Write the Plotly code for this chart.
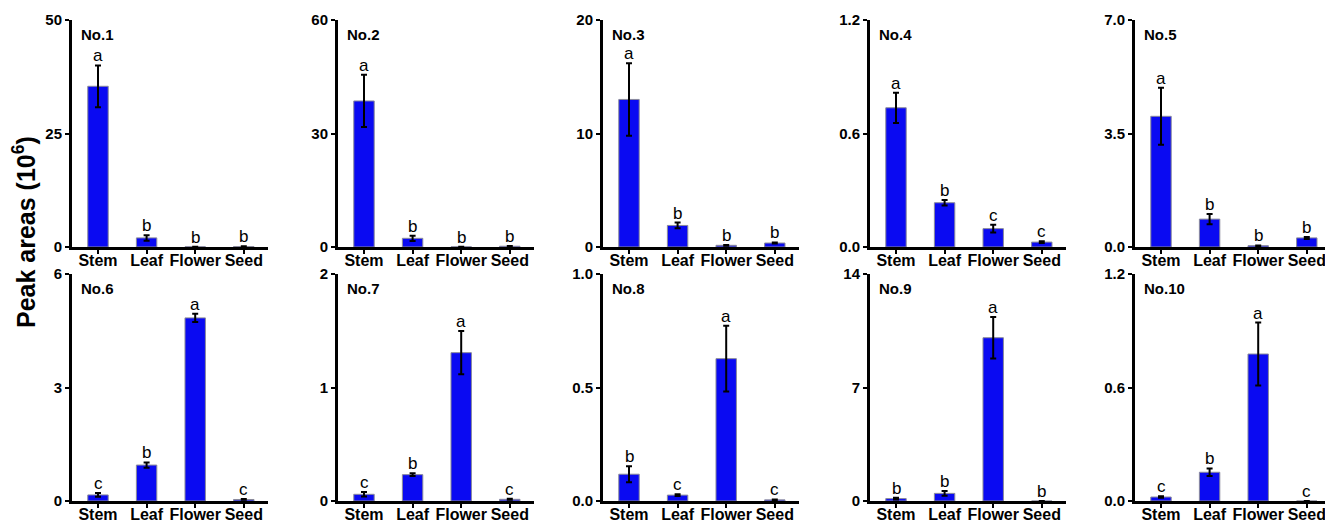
import plotly.graph_objects as go

W, H = 1325, 521

categories = ["Stem", "Leaf", "Flower", "Seed"]
panel_names = ["No.1", "No.2", "No.3", "No.4", "No.5", "No.6", "No.7", "No.8", "No.9", "No.10"]

no1_mean = [35.4, 2.0, 0.05, 0.1]
no1_err = [4.6, 0.6, 0.02, 0.05]
no1_letters = ["a", "b", "b", "b"]

no2_mean = [38.6, 2.3, 0.05, 0.2]
no2_err = [6.9, 0.7, 0.02, 0.05]
no2_letters = ["a", "b", "b", "b"]

no3_mean = [13.0, 1.9, 0.15, 0.35]
no3_err = [3.2, 0.25, 0.03, 0.05]
no3_letters = ["a", "b", "b", "b"]

no4_mean = [0.736, 0.234, 0.097, 0.026]
no4_err = [0.08, 0.015, 0.02, 0.005]
no4_letters = ["a", "b", "c", "c"]

no5_mean = [4.03, 0.86, 0.04, 0.28]
no5_err = [0.88, 0.16, 0.01, 0.03]
no5_letters = ["a", "b", "b", "b"]

no6_mean = [0.16, 0.95, 4.84, 0.04]
no6_err = [0.05, 0.07, 0.11, 0.01]
no6_letters = ["c", "b", "a", "c"]

no7_mean = [0.059, 0.232, 1.307, 0.015]
no7_err = [0.02, 0.012, 0.19, 0.004]
no7_letters = ["c", "b", "a", "c"]

no8_mean = [0.118, 0.026, 0.627, 0.005]
no8_err = [0.035, 0.004, 0.145, 0.002]
no8_letters = ["b", "c", "a", "c"]

no9_mean = [0.15, 0.47, 10.07, 0.0]
no9_err = [0.05, 0.15, 1.28, 0.0]
no9_letters = ["b", "b", "a", "b"]

no10_mean = [0.021, 0.152, 0.777, 0.0]
no10_err = [0.004, 0.02, 0.166, 0.0]
no10_letters = ["c", "b", "a", "c"]

y_max = [50, 60, 20, 1.2, 7.0, 6, 2, 1.0, 14, 1.2]
y_ticktext = [
    ["0", "25", "50"], ["0", "30", "60"], ["0", "10", "20"], ["0.0", "0.6", "1.2"], ["0.0", "3.5", "7.0"],
    ["0", "3", "6"], ["0", "1", "2"], ["0.0", "0.5", "1.0"], ["0", "7", "14"], ["0.0", "0.6", "1.2"],
]

means = [no1_mean, no2_mean, no3_mean, no4_mean, no5_mean, no6_mean, no7_mean, no8_mean, no9_mean, no10_mean]
errs = [no1_err, no2_err, no3_err, no4_err, no5_err, no6_err, no7_err, no8_err, no9_err, no10_err]
letters = [no1_letters, no2_letters, no3_letters, no4_letters, no5_letters,
           no6_letters, no7_letters, no8_letters, no9_letters, no10_letters]

# layout geometry (pixels)
col_left = [72, 338, 603, 870, 1135]
panel_w = 196
row_top = [20, 274]
panel_h = 227
unit_px = 48.6
left_off = 26 / unit_px

FONT = "Arial, Liberation Sans, sans-serif"
BAR_COLOR = "#0A0AF2"

fig = go.Figure()
annotations = []

for i in range(10):
    r, c = divmod(i, 5)
    ax = "" if i == 0 else str(i + 1)
    xref, yref = "x" + ax, "y" + ax
    x0 = col_left[c]
    x1 = min(x0 + panel_w, W)
    y_top = row_top[r]
    y_bot = y_top + panel_h
    xr_right = -left_off + (x1 - x0) / unit_px

    fig.add_trace(go.Bar(
        x=categories, y=means[i],
        error_y=dict(type="data", array=errs[i], visible=True, color="black", thickness=2, width=3),
        marker=dict(color=BAR_COLOR, line=dict(color="#8a8a9a", width=1)),
        width=0.42, xaxis=xref, yaxis=yref, showlegend=False,
    ))

    fig.layout["xaxis" + ax] = dict(
        domain=[x0 / W, x1 / W], anchor=yref, type="category", automargin=False,
        range=[-left_off, xr_right], showline=True, linecolor="black", linewidth=3,
        ticks="outside", ticklen=4, tickwidth=2, tickcolor="black", ticklabelstandoff=-7,
        tickfont=dict(family=FONT, size=16, color="black", weight="bold"),
        showgrid=False, zeroline=False, fixedrange=True,
    )
    ym = y_max[i]
    fig.layout["yaxis" + ax] = dict(
        domain=[(H - y_bot) / H, (H - y_top) / H], anchor=xref, automargin=False,
        range=[0, ym], tickvals=[0, ym / 2, ym], ticktext=y_ticktext[i],
        showline=True, linecolor="black", linewidth=3,
        ticks="outside", ticklen=4, tickwidth=2, tickcolor="black",
        tickfont=dict(family=FONT, size=15, color="black", weight="bold"),
        showgrid=False, zeroline=False, fixedrange=True,
    )

    annotations.append(dict(
        text=panel_names[i], xref=xref + " domain", yref=yref + " domain",
        x=0.036, y=0.934, xanchor="left", yanchor="middle", showarrow=False,
        font=dict(family=FONT, size=15, color="black", weight="bold"),
    ))
    for k, cat in enumerate(categories):
        annotations.append(dict(
            text=letters[i][k], xref=xref, yref=yref, x=cat, y=means[i][k] + errs[i][k],
            xanchor="center", yanchor="bottom", yshift=-2, showarrow=False,
            font=dict(family=FONT, size=17, color="black"),
        ))

annotations.append(dict(
    text="Peak areas (10<sup>6</sup>)", xref="paper", yref="paper",
    x=24 / W, y=(H - 232) / H, xanchor="center", yanchor="middle",
    textangle=-90, showarrow=False,
    font=dict(family=FONT, size=25, color="black", weight="bold"),
))

fig.update_layout(
    width=W, height=H, margin=dict(l=0, r=0, t=0, b=0, autoexpand=False),
    paper_bgcolor="white", plot_bgcolor="white",
    annotations=annotations, bargap=0.5,
)

fig.write_html(
    "out.html",
    config={"displayModeBar": False},
    post_script="document.body.style.margin='0px';document.body.style.overflow='hidden';",
)
